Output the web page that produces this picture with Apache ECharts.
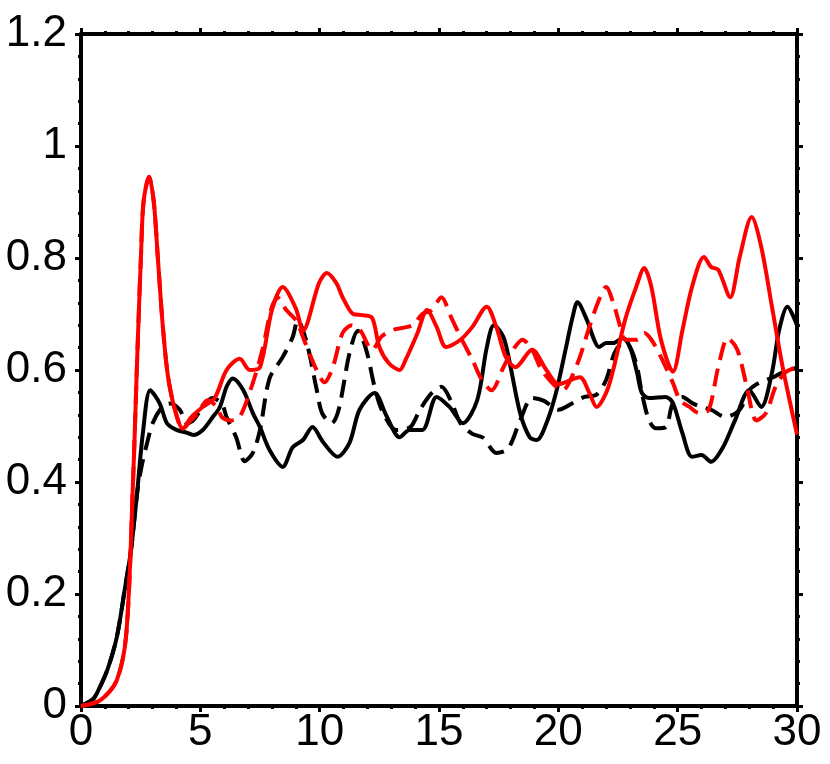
<!DOCTYPE html>
<html>
<head>
<meta charset="utf-8">
<script src="https://cdn.jsdelivr.net/npm/echarts@6/dist/echarts.min.js"></script>
<style>
html,body{margin:0;padding:0;background:#fff;}
#chart{width:830px;height:764px;}
</style>
</head>
<body>
<div id="chart"></div>
<script>
// x ticks and y ticks
const xTicks = [0, 5, 10, 15, 20, 25, 30];
const yTicks = [0, 0.2, 0.4, 0.6, 0.8, 1, 1.2];

// Black solid: [x, y]
const blackSolid = [
  [0,0],[0.5,0.012],[0.67,0.023],[1.1,0.064],[1.5,0.123],[1.84,0.21],[2.1,0.28],[2.35,0.38],[2.6,0.49],
  [2.9,0.564],[3.3,0.54],[3.6,0.505],[4.0,0.493],[4.44,0.488],[4.7,0.484],[5.1,0.493],[5.52,0.516],
  [5.82,0.534],[6.1,0.57],[6.36,0.585],[6.8,0.564],[7.2,0.523],[7.5,0.498],[7.9,0.457],[8.45,0.427],
  [8.87,0.462],[9.3,0.475],[9.7,0.498],[10.13,0.472],[10.75,0.445],[11.25,0.47],[11.67,0.529],[12.3,0.559],
  [12.8,0.518],[13.35,0.48],[13.76,0.493],[14.3,0.493],[14.9,0.552],[15.44,0.534],[16.0,0.505],[16.6,0.546],
  [17.0,0.64],[17.3,0.68],[17.7,0.659],[18.0,0.605],[18.4,0.523],[18.8,0.48],[19.1,0.475],[19.5,0.505],
  [19.9,0.559],[20.3,0.636],[20.6,0.695],[20.8,0.721],[21.2,0.689],[21.5,0.654],[21.7,0.641],[22.0,0.648],
  [22.3,0.648],[22.7,0.657],[23.0,0.641],[23.3,0.595],[23.5,0.559],[23.8,0.55],[24.5,0.552],[24.8,0.541],
  [25.2,0.487],[25.6,0.445],[26.0,0.448],[26.4,0.436],[26.9,0.462],[27.4,0.51],[28.0,0.564],[28.5,0.534],
  [28.95,0.595],[29.25,0.671],[29.6,0.713],[30,0.68]
];

// Black dashed: [x, y]
const blackDashed = [
  [0,0],[0.5,0.012],[0.67,0.023],[1.1,0.064],[1.5,0.123],[1.84,0.21],[2.1,0.28],[2.35,0.38],
  [2.55,0.43],[2.8,0.475],[3.0,0.505],[3.4,0.534],[3.72,0.54],[4.14,0.529],[4.44,0.505],[4.7,0.51],
  [5.1,0.534],[5.5,0.55],[5.9,0.54],[6.1,0.516],[6.5,0.48],[6.86,0.437],[7.2,0.452],[7.5,0.493],
  [7.9,0.585],[8.45,0.623],[8.87,0.659],[9.08,0.689],[9.45,0.65],[9.87,0.566],[10.1,0.523],[10.5,0.505],
  [10.8,0.53],[11.25,0.63],[11.6,0.67],[11.95,0.636],[12.3,0.57],[12.6,0.529],[13.2,0.493],[13.8,0.498],
  [14.2,0.529],[14.7,0.559],[15.1,0.57],[15.5,0.545],[15.9,0.505],[16.4,0.486],[16.85,0.479],[17.4,0.452],
  [17.9,0.46],[18.4,0.51],[18.9,0.55],[19.4,0.545],[20.0,0.529],[20.6,0.541],[21.1,0.552],[21.6,0.556],
  [22.0,0.582],[22.35,0.63],[22.7,0.648],[23.0,0.641],[23.3,0.605],[23.5,0.559],[23.8,0.51],[24.1,0.496],
  [24.5,0.498],[24.8,0.541],[25.2,0.552],[25.6,0.541],[26.0,0.534],[26.4,0.529],[27.0,0.516],[27.6,0.529],
  [28.0,0.564],[28.4,0.577],[29.0,0.587],[29.4,0.596],[30,0.604]
];

// Red solid: [x, y]
const redSolid = [
  [0,0],[0.8,0.01],[1.5,0.046],[1.9,0.13],[2.18,0.4],[2.33,0.59],[2.42,0.7],[2.51,0.8],[2.62,0.9],[2.85,0.945],
  [3.05,0.9],[3.22,0.8],[3.43,0.677],[3.64,0.59],[3.93,0.53],[4.27,0.495],[4.6,0.515],[5.1,0.534],[5.6,0.55],[6.1,0.6],
  [6.65,0.62],[7.07,0.6],[7.5,0.605],[8.0,0.707],[8.45,0.748],[9.0,0.71],[9.3,0.67],[9.97,0.755],
  [10.3,0.773],[10.7,0.755],[10.96,0.73],[11.4,0.70],[11.8,0.698],[12.2,0.693],[12.5,0.641],[12.9,0.612],
  [13.35,0.60],[13.6,0.618],[14.1,0.666],[14.5,0.707],[14.9,0.677],[15.3,0.641],[15.9,0.654],[16.4,0.677],
  [17.0,0.713],[17.4,0.677],[17.8,0.623],[18.2,0.605],[18.9,0.636],[19.5,0.6],[20.0,0.575],[20.9,0.587],
  [21.3,0.559],[21.6,0.534],[22.1,0.57],[22.8,0.69],[23.26,0.748],[23.6,0.782],[23.9,0.748],[24.3,0.654],
  [24.8,0.597],[25.2,0.671],[25.6,0.748],[26.1,0.802],[26.4,0.784],[26.7,0.779],[27.2,0.73],[27.6,0.802],
  [28.1,0.873],[28.5,0.82],[28.95,0.713],[29.4,0.605],[30,0.485]
];

// Red dashed: [x, y]
const redDashed = [
  [0,0],[0.8,0.01],[1.5,0.046],[1.9,0.13],[2.18,0.4],[2.33,0.59],[2.42,0.7],[2.51,0.8],[2.62,0.9],[2.85,0.945],
  [3.05,0.9],[3.22,0.8],[3.43,0.677],[3.64,0.59],[3.93,0.53],[4.27,0.495],[4.6,0.51],[4.9,0.523],[5.3,0.546],[5.7,0.534],
  [5.9,0.516],[6.3,0.51],[6.65,0.516],[7.2,0.577],[7.6,0.636],[8.0,0.713],[8.25,0.729],[8.6,0.707],
  [9.0,0.689],[9.4,0.648],[9.87,0.6],[10.2,0.578],[10.55,0.605],[10.96,0.666],[11.35,0.68],[11.7,0.671],
  [12.2,0.636],[12.6,0.66],[13.1,0.672],[13.9,0.68],[14.3,0.70],[14.7,0.707],[15.1,0.73],[15.5,0.695],
  [15.9,0.659],[16.4,0.618],[16.8,0.582],[17.2,0.564],[17.7,0.605],[18.1,0.636],[18.5,0.654],[18.9,0.636],
  [19.3,0.6],[19.9,0.57],[20.2,0.564],[20.5,0.582],[20.9,0.623],[21.3,0.677],[21.7,0.725],[22.0,0.748],
  [22.3,0.72],[22.6,0.677],[22.8,0.654],[23.3,0.654],[23.6,0.666],[23.9,0.654],[24.3,0.623],[24.8,0.577],
  [25.1,0.546],[25.5,0.534],[25.9,0.523],[26.3,0.529],[26.7,0.605],[27.1,0.657],[27.5,0.636],[27.9,0.57],
  [28.3,0.51],[28.7,0.523],[29.1,0.57],[29.5,0.595],[30,0.605]
];

const chart = echarts.init(document.getElementById('chart'), null, {renderer: 'canvas'});
const FONT = 'Liberation Sans, Arial, Helvetica, sans-serif';
const axisLineStyle = {color: '#000', width: 4};
const tickStyle = {color: '#000', width: 3};

function xAxisCfg(pos, labels) {
  return {
    type: 'value', position: pos, min: xTicks[0], max: xTicks[xTicks.length - 1], interval: 5,
    axisLine: {show: true, onZero: false, lineStyle: axisLineStyle},
    axisTick: {show: true, inside: false, length: 6, lineStyle: tickStyle},
    minorTick: {show: true, splitNumber: 5, length: 3, lineStyle: {color: '#000', width: 3}},
    splitLine: {show: false},
    axisLabel: {show: labels, color: '#000', fontSize: 44, fontFamily: FONT, margin: 5}
  };
}
function yAxisCfg(pos, labels) {
  return {
    type: 'value', position: pos, min: yTicks[0], max: yTicks[yTicks.length - 1], interval: 0.2,
    axisLine: {show: true, onZero: false, lineStyle: axisLineStyle},
    axisTick: {show: true, inside: false, length: 6, lineStyle: tickStyle},
    minorTick: {show: true, splitNumber: 5, length: 3, lineStyle: {color: '#000', width: 3}},
    splitLine: {show: false},
    axisLabel: {show: labels, color: '#000', fontSize: 44, fontFamily: FONT, margin: 14}
  };
}

function lineSeries(data, color, dashed) {
  return {
    type: 'line', data: data, xAxisIndex: 0, yAxisIndex: 0, smooth: 0.3, showSymbol: false,
    symbol: 'none', animation: false,
    lineStyle: {color: color, width: 4, type: dashed ? [18, 9] : 'solid'}
  };
}

chart.setOption({
  animation: false,
  backgroundColor: '#fff',
  grid: {left: 81, right: 33, top: 34, bottom: 58, containLabel: false},
  xAxis: [xAxisCfg('bottom', true), xAxisCfg('top', false)],
  yAxis: [yAxisCfg('left', true), yAxisCfg('right', false)],
  series: [
    lineSeries(blackDashed, '#000', true),
    lineSeries(blackSolid, '#000', false),
    lineSeries(redDashed, '#ff0000', true),
    lineSeries(redSolid, '#ff0000', false)
  ]
});
</script>
</body>
</html>
